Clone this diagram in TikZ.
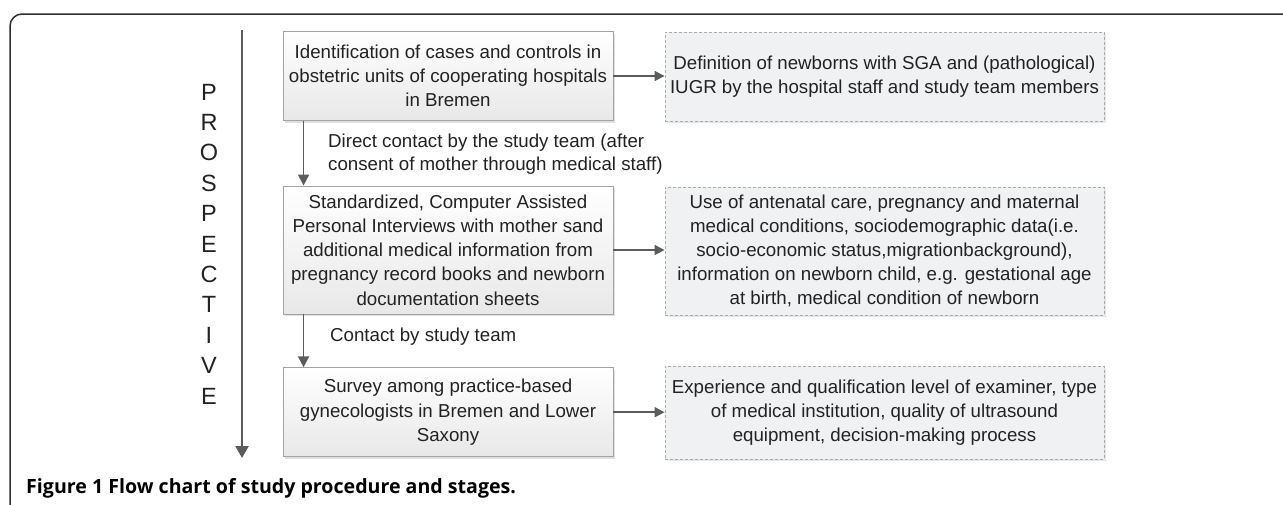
\documentclass[tikz,border=0pt]{standalone}
\usepackage{fontspec}
\setmainfont{Liberation Sans}
\newfontfamily\capfont{Open Sans}
\usetikzlibrary{arrows.meta,shadows}
\definecolor{txt}{HTML}{222222}
\definecolor{arr}{HTML}{5C5C5C}
\definecolor{lbord}{HTML}{A3A3A3}
\definecolor{rbord}{HTML}{ABABAB}
\definecolor{rfill}{HTML}{F0F1F3}
\definecolor{shad}{HTML}{D8D8D8}
\definecolor{framec}{HTML}{2E2E2E}
\begin{document}
\begin{tikzpicture}[x=1pt,y=-1pt,
  boxtext/.style={text=txt, font=\fontsize{18.7}{24.2}\selectfont, align=center, inner sep=0pt},
  lbox/.style={boxtext, draw=lbord, line width=0.9pt, top color=white, bottom color=black!9,
    minimum width=330pt, drop shadow={shadow xshift=2pt, shadow yshift=-2pt, fill=shad, opacity=0.8}},
  rbox/.style={boxtext, draw=rbord, line width=0.9pt, dash pattern=on 3pt off 2pt, fill=rfill,
    minimum width=439pt, drop shadow={shadow xshift=2pt, shadow yshift=-2pt, fill=shad, opacity=0.6}},
  harrow/.style={draw=arr, line width=1.8pt, -{Triangle[width=10pt,length=10pt]}},
  darrow/.style={draw=arr, line width=1.8pt, -{Triangle[width=11pt,length=11pt]}},
  bigarrow/.style={draw=arr, line width=2.4pt, -{Triangle[width=13pt,length=12pt]}},
  lab/.style={text=txt, font=\fontsize{18.7}{22.5}\selectfont, align=left, inner sep=0pt},
]
\useasboundingbox (0,0) rectangle (1283,504);
\clip (0,0) rectangle (1283,504);
% frame
\draw[framec, line width=1.5pt, rounded corners=12pt] (1300,14) -- (10,14) -- (10,530);

% timeline
\coordinate (ttop) at (242,30);
\coordinate (tbot) at (242,458);
\draw[bigarrow] (ttop) -- (tbot);
\node[text=txt, font=\fontsize{23.5}{30.4}\selectfont, align=center, inner sep=0pt] (prosp) at (209,244)
  {P\\R\\O\\S\\P\\E\\C\\T\\I\\V\\E};

% left boxes
\node[lbox, minimum height=89pt] (b1) at (448,76)
  {Identification of cases and controls in\\obstetric units of cooperating hospitals\\in Bremen};
\node[lbox, minimum height=128pt] (b2) at (448,250)
  {Standardized, Computer Assisted\\Personal Interviews with mother sand\\additional medical information from\\pregnancy record books and newborn\\documentation sheets};
\node[lbox, minimum height=89pt] (b3) at (448,412.2)
  {Survey among practice-based\\gynecologists in Bremen and Lower\\Saxony};

% right boxes
\node[rbox, minimum height=89pt] (r1) at (884.5,76.5)
  {Definition of newborns with SGA and (pathological)\\IUGR by the hospital staff and study team members};
\node[rbox, minimum height=128pt] (r2) at (884.5,251)
  {Use of antenatal care, pregnancy and maternal\\medical conditions, sociodemographic data(i.e.\\socio-economic status,migrationbackground),\\information on newborn child, e.g. gestational age\\at birth, medical condition of newborn};
\node[rbox, minimum height=93pt] (r3) at (884.5,412.5)
  {Experience and qualification level of examiner, type\\of medical institution, quality of ultrasound\\equipment, decision-making process};

% connectors
\draw[harrow] (b1.east) -- (r1.west |- b1.east);
\draw[harrow] (b2.east) -- (r2.west |- b2.east);
\draw[harrow] (b3.east) -- (r3.west |- b3.east);
\draw[darrow] ([xshift=21pt]b1.south west) -- ([xshift=21pt]b2.north west);
\draw[darrow] ([xshift=21pt]b2.south west) -- ([xshift=21pt]b3.north west);

% labels
\node[lab, anchor=west] (l1) at (328,154)
  {Direct contact by the study team (after\\consent of mother through medical staff)};
\node[lab, anchor=west] (l2) at (330,337) {Contact by study team};

% caption
\node[anchor=west, inner sep=0pt, text=black, font=\capfont\bfseries\fontsize{19.6}{22}\selectfont] (cap) at (26,488)
  {Figure 1 Flow chart of study procedure and stages.};
\end{tikzpicture}
\end{document}
